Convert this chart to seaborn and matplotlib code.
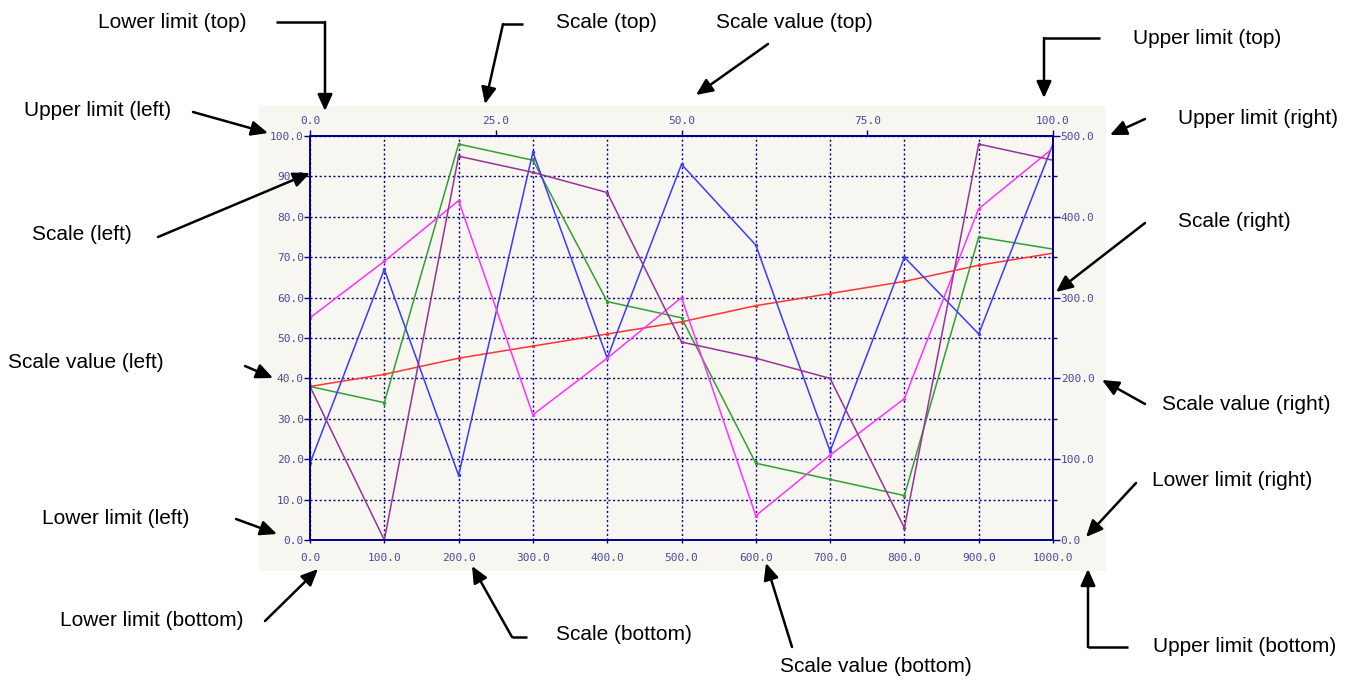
import numpy as np
import pandas as pd
import matplotlib
matplotlib.use("Agg")
import matplotlib.pyplot as plt
import seaborn as sns
from matplotlib.patches import Rectangle, FancyArrowPatch
from matplotlib.lines import Line2D
from matplotlib.ticker import MultipleLocator, FormatStrFormatter

# ---------------- data ----------------
x_values = [0, 100, 200, 300, 400, 500, 600, 700, 800, 900, 1000]
red_values = [38, 41, 45, 48, 51, 54, 58, 61, 64, 68, 71]
green_values = [38, 34, 98, 94, 59, 55, 19, 15, 11, 75, 72]
blue_values = [19, 67, 16, 96, 45, 93, 73, 22, 70, 51, 98]
magenta_values = [55, 69, 84, 31, 45, 60, 6, 21, 35, 82, 97]
purple_values = [38, 0, 95, 91, 86, 49, 45, 40, 3, 98, 94]

left_ticks = [0, 10, 20, 30, 40, 50, 60, 70, 80, 90, 100]
bottom_ticks = [0, 100, 200, 300, 400, 500, 600, 700, 800, 900, 1000]
top_ticks = [0, 25, 50, 75, 100]
right_ticks = [0, 100, 200, 300, 400, 500]

annotation_labels = [
    "Lower limit (top)", "Scale (top)", "Scale value (top)", "Upper limit (top)",
    "Upper limit (left)", "Scale (left)", "Scale value (left)", "Lower limit (left)",
    "Lower limit (bottom)", "Scale (bottom)", "Scale value (bottom)", "Upper limit (bottom)",
    "Upper limit (right)", "Scale (right)", "Scale value (right)", "Lower limit (right)",
]

series = {"red": red_values, "green": green_values, "blue": blue_values,
          "magenta": magenta_values, "purple": purple_values}
palette = {"red": "#ff3333", "green": "#33a033", "blue": "#3b3bff",
           "magenta": "#ff33ff", "purple": "#993399"}

df = pd.concat([pd.DataFrame({"x": x_values, "y": v, "series": k}) for k, v in series.items()],
               ignore_index=True)

# ---------------- figure ----------------
W, H = 1359, 682
sns.set_style("white")
plt.rcParams['font.family'] = ['Liberation Sans', 'DejaVu Sans']
fig = plt.figure(figsize=(W / 100, H / 100), dpi=100)
fig.patch.set_facecolor("white")

def fp(x, y):
    return (x / W, 1 - y / H)

cream = "#f7f6f0"
navy = "#000088"
grid_col = "#000080"
tick_col = "#4a4aa0"

# panel background
fig.add_artist(Rectangle(fp(259, 571), (1106 - 259) / W, (571 - 106) / H,
                         transform=fig.transFigure, facecolor=cream, edgecolor="none", zorder=0))

ax = fig.add_axes([310 / W, 1 - 540 / H, (1053 - 310) / W, (540 - 136) / H])
ax.set_facecolor(cream)

sns.lineplot(data=df, x="x", y="y", hue="series", palette=palette, ax=ax,
             legend=False, linewidth=1.1, marker="o", markersize=2.5,
             markeredgewidth=0, estimator=None, sort=False)

ax.set_xlim(0, 1000)
ax.set_ylim(0, 100)
ax.set_xlabel("")
ax.set_ylabel("")

ax.set_xticks(bottom_ticks)
ax.set_yticks(left_ticks)
ax.xaxis.set_major_formatter(FormatStrFormatter("%.1f"))
ax.yaxis.set_major_formatter(FormatStrFormatter("%.1f"))
ax.grid(True, color=grid_col, linestyle=(0, (1.5, 1.8)), linewidth=1.0)
ax.set_axisbelow(True)

mono = "DejaVu Sans Mono"
ax.tick_params(axis="y", direction="out", length=4, width=1, color=navy,
               labelcolor=tick_col, labelsize=8, pad=0.5, left=True)
ax.tick_params(axis="x", direction="out", length=2.5, width=1, color=navy,
               labelcolor=tick_col, labelsize=8, pad=7, bottom=True)
for lab in ax.get_xticklabels() + ax.get_yticklabels():
    lab.set_fontfamily(mono)

for s in ax.spines.values():
    s.set_color(navy)
    s.set_linewidth(1.4)
    s.set_visible(True)

# top axis
top = ax.secondary_xaxis("top", functions=(lambda v: v / 10.0, lambda v: v * 10.0))
top.set_xticks(top_ticks)
top.xaxis.set_major_formatter(FormatStrFormatter("%.1f"))
top.tick_params(direction="out", length=4, width=1, color=navy,
                labelcolor=tick_col, labelsize=8, pad=3)
top.spines["top"].set_color(navy)
top.spines["top"].set_linewidth(1.4)
for lab in top.get_xticklabels():
    lab.set_fontfamily(mono)

# right axis
right = ax.secondary_yaxis("right", functions=(lambda v: v * 5.0, lambda v: v / 5.0))
right.set_yticks(right_ticks)
right.yaxis.set_minor_locator(MultipleLocator(50))
right.yaxis.set_major_formatter(FormatStrFormatter("%.1f"))
right.tick_params(which="major", direction="out", length=5, width=1, color=navy,
                  labelcolor=tick_col, labelsize=8, pad=0.5)
right.tick_params(which="minor", direction="out", length=3, width=1, color=navy)
right.spines["right"].set_color(navy)
right.spines["right"].set_linewidth(1.4)
for lab in right.get_yticklabels():
    lab.set_fontfamily(mono)

# ---------------- annotations ----------------
text_pos = [
    (98, 22), (556, 22), (716, 22), (1133, 38),
    (24, 110), (32, 235), (8, 363), (42, 519),
    (60, 620), (556, 635), (780, 667), (1153, 647),
    (1178, 118), (1178, 222), (1162, 404), (1152, 481),
]
for label, (tx, ty) in zip(annotation_labels, text_pos):
    fig.text(*fp(tx, ty), label, fontsize=15, ha="left", va="center", color="black")

def seg(p, q):
    fig.add_artist(Line2D([fp(*p)[0], fp(*q)[0]], [fp(*p)[1], fp(*q)[1]],
                          transform=fig.transFigure, color="black", linewidth=1.8,
                          solid_capstyle="butt"))

def arrow(p, q):
    fig.add_artist(FancyArrowPatch(fp(*p), fp(*q), transform=fig.transFigure,
                                   arrowstyle="-|>,head_length=1.0,head_width=0.45",
                                   mutation_scale=10, color="black", linewidth=1.8,
                                   shrinkA=0, shrinkB=0))

# top
seg((276, 22), (325, 22)); arrow((325, 22), (325, 111))
seg((523, 24), (503, 24)); arrow((503, 24), (485, 104))
arrow((768, 44), (696, 95))
seg((1100, 38), (1044, 38)); arrow((1044, 38), (1044, 98))
# left
arrow((193, 112), (268, 133))
arrow((158, 237), (310, 173))
arrow((245, 366), (273, 378))
arrow((236, 519), (277, 534))
# bottom
arrow((265, 621), (318, 569))
seg((527, 637), (512, 637)); arrow((512, 637), (472, 566))
arrow((792, 647), (766, 563))
seg((1128, 647), (1088, 647)); arrow((1088, 647), (1088, 569))
# right
arrow((1145, 119), (1110, 135))
arrow((1145, 223), (1056, 292))
arrow((1145, 404), (1102, 380))
arrow((1136, 483), (1086, 537))

fig.savefig("out.png", dpi=100, facecolor="white")
